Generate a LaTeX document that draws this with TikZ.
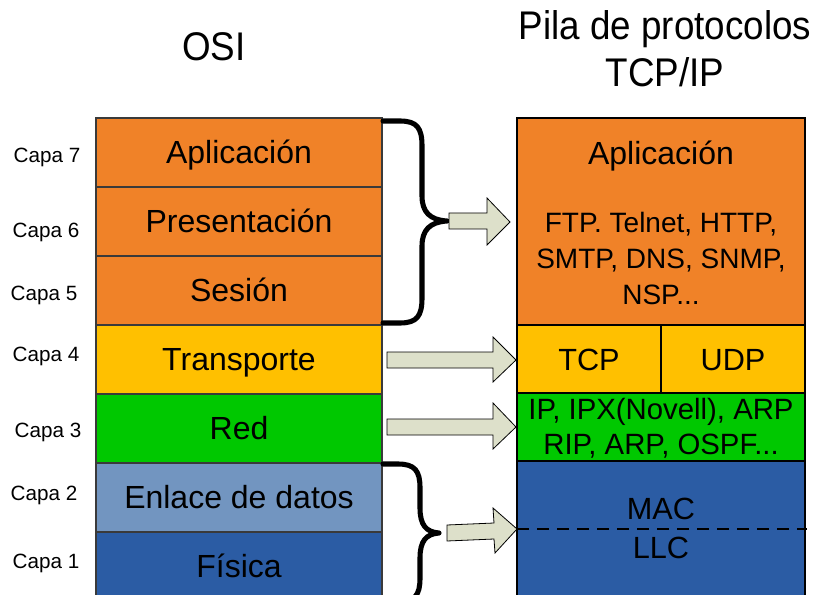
\documentclass[tikz,border=0pt]{standalone}
\usepackage{fontspec}
\setmainfont{Liberation Sans}
\newfontfamily\titlefont[FakeStretch=0.92]{Liberation Sans}
\definecolor{orangeC}{HTML}{F08228}
\definecolor{yellowC}{HTML}{FFC000}
\definecolor{greenC}{HTML}{00C800}
\definecolor{lblueC}{HTML}{7295C0}
\definecolor{dblueC}{HTML}{2B5CA4}
\definecolor{arrowC}{HTML}{DDE0CA}
\definecolor{edgeC}{HTML}{3A3A3A}
\begin{document}
\begin{tikzpicture}[x=0.75pt,y=-0.75pt,
  osibox/.style={draw=edgeC,line width=0.8pt,minimum width=214.5pt,minimum height=51.75pt,inner sep=0pt,text height=17.2pt,text depth=0pt,font=\fontsize{24}{28}\selectfont},
  tcpbox/.style={draw=black,line width=0.8pt,inner sep=0pt,text height=16.5pt,text depth=0pt,font=\fontsize{23}{27}\selectfont},
  lbl/.style={inner sep=0pt,text height=16.5pt,text depth=0pt,font=\fontsize{23}{27}\selectfont},
  capa/.style={font=\fontsize{15.5}{18}\selectfont},
  ttl/.style={font=\titlefont\fontsize{30}{33}\selectfont,align=center},
  prot/.style={font=\fontsize{21}{27}\selectfont,align=center},
  bigarrow/.style={fill=arrowC,draw=black,line width=0.6pt,line join=miter},
  brace/.style={line width=3.8pt,line cap=round,line join=round}]
\useasboundingbox (0,0) rectangle (817,595);
\begin{scope}
\clip (0,0) rectangle (817,595);
% titles
\node[ttl] (tosi) at (214,47) {OSI};
\node[ttl] (ttcp) at (665,49) {Pila de protocolos\\[2pt]TCP/IP};
% OSI stack
\node[osibox,fill=orangeC] (apl) at (239,152.5) {Aplicación};
\node[osibox,fill=orangeC] (pre) at (239,221.5) {Presentación};
\node[osibox,fill=orangeC] (ses) at (239,290.5) {Sesión};
\node[osibox,fill=yellowC] (tra) at (239,359.5) {Transporte};
\node[osibox,fill=greenC] (red) at (239,428.5) {Red};
\node[osibox,fill=lblueC] (enl) at (239,497.5) {Enlace de datos};
\node[osibox,fill=dblueC] (fis) at (239,566.5) {Física};
% capa labels
\node[capa] (c7) at (47,157) {Capa 7};
\node[capa] (c6) at (46,232) {Capa 6};
\node[capa] (c5) at (44,295) {Capa 5};
\node[capa] (c4) at (46,356) {Capa 4};
\node[capa] (c3) at (48,432) {Capa 3};
\node[capa] (c2) at (44,495) {Capa 2};
\node[capa] (c1) at (46,563) {Capa 1};
% TCP/IP stack
\node[tcpbox,fill=orangeC,minimum width=216pt,minimum height=155.25pt] (tapp) at (661,221.5) {};
\node[lbl,font=\fontsize{24}{28}\selectfont,text height=17.2pt] (tapl) at (661,153) {Aplicación};
\node[prot] (tprot) at (661,258) {FTP. Telnet, HTTP,\\SMTP, DNS, SNMP,\\NSP...};
\node[tcpbox,fill=yellowC,minimum width=108pt,minimum height=51pt] (ttcpb) at (589,359) {TCP};
\node[tcpbox,fill=yellowC,minimum width=108pt,minimum height=51pt] (tudp) at (733,359) {UDP};
\node[tcpbox,fill=greenC,minimum width=216pt,minimum height=51pt] (tred) at (661,427) {};
\node[font=\fontsize{22}{26}\selectfont,align=center] (tip) at (661,428) {IP, IPX(Novell), ARP\\RIP, ARP, OSPF...};
\node[tcpbox,fill=dblueC,minimum width=216pt,minimum height=105pt] (tlink) at (661,531) {};
\node[lbl] (tmac) at (661,508) {MAC};
\node[lbl] (tllc) at (661,547) {LLC};
\coordinate (dl) at (517,529);
\coordinate (dr) at (807,529);
\draw[black,line width=1pt,dash pattern=on 9pt off 6pt] (dl) -- (dr);
% braces
\draw[brace] (383,121) -- (400,121) .. controls (417,121) and (422,128) .. (422,146) -- (422,196)
  .. controls (422,212) and (430,220) .. (447,221)
  .. controls (430,222) and (422,230) .. (422,246) -- (422,298)
  .. controls (422,316) and (417,323) .. (400,323) -- (383,323);
\draw[brace] (383,464) -- (398,464) .. controls (415,464) and (420,471) .. (420,488) -- (420,508)
  .. controls (420,525) and (426,532) .. (439,533)
  .. controls (426,534) and (420,541) .. (420,558) -- (420,578)
  .. controls (420,595) and (415,602) .. (398,602) -- (383,602);
% block arrows
\draw[bigarrow] (449,213) -- (487,213) -- (487,198) -- (510,222) -- (487,245) -- (487,229) -- (449,229) -- cycle;
\draw[bigarrow] (387,352) -- (493,352) -- (493,337) -- (516,360) -- (493,382) -- (493,368) -- (387,368) -- cycle;
\draw[bigarrow] (387,419) -- (493,419) -- (493,403) -- (516,427) -- (493,449) -- (493,435) -- (387,435) -- cycle;
\draw[bigarrow] (447,525) -- (494,523) -- (493,508) -- (517,529) -- (495,553) -- (494,539) -- (447,541) -- cycle;
\end{scope}
\end{tikzpicture}
\end{document}
